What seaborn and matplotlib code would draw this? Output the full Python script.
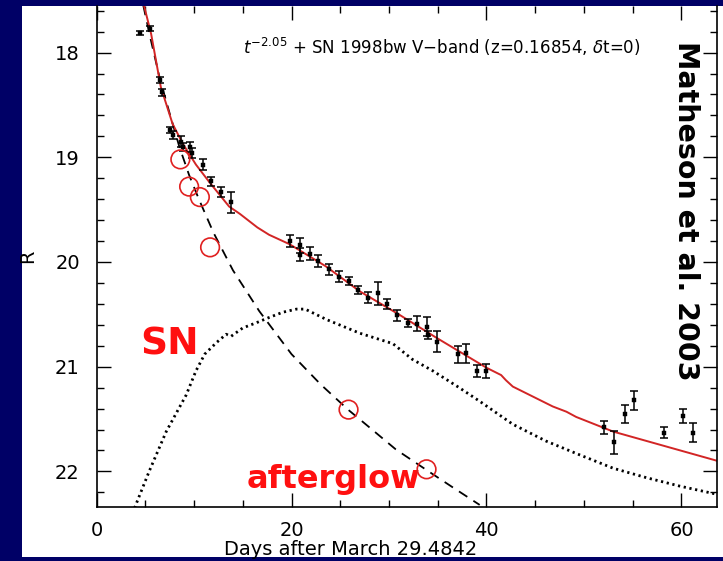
import matplotlib
matplotlib.use("Agg")
import matplotlib.pyplot as plt
from matplotlib.patches import Rectangle
from matplotlib.ticker import MultipleLocator
import seaborn as sns
import pandas as pd

# ---------------- data ----------------
obs_days = [4.5, 5.5, 6.5, 6.75, 7.55, 7.8, 8.65, 8.85, 9.6, 9.8, 10.9, 11.75, 12.8, 13.75,
            19.85, 20.85, 20.9, 21.9, 22.75, 23.85, 24.85, 25.85, 26.85, 27.85, 28.85,
            29.8, 30.85, 31.9, 32.85, 33.9, 34.0, 34.9, 37.05, 37.9, 39.0, 39.95,
            52.1, 53.1, 54.2, 55.1, 58.2, 60.2, 61.2]
obs_mag = [17.81, 17.77, 18.26, 18.38, 18.74, 18.79, 18.85, 18.90, 18.90, 18.96, 19.07, 19.23, 19.33, 19.43,
           19.80, 19.84, 19.93, 19.92, 19.99, 20.07, 20.14, 20.18, 20.27, 20.34, 20.30,
           20.40, 20.51, 20.58, 20.59, 20.62, 20.70, 20.76, 20.88, 20.87, 21.04, 21.04,
           21.58, 21.72, 21.45, 21.32, 21.63, 21.47, 21.63]
obs_err = [0.02, 0.02, 0.03, 0.03, 0.03, 0.04, 0.05, 0.04, 0.05, 0.05, 0.05, 0.04, 0.05, 0.10,
           0.06, 0.07, 0.06, 0.06, 0.06, 0.05, 0.05, 0.04, 0.04, 0.05, 0.11,
           0.05, 0.05, 0.04, 0.07, 0.09, 0.04, 0.10, 0.08, 0.09, 0.06, 0.07,
           0.06, 0.11, 0.085, 0.09, 0.055, 0.07, 0.09]

model_days = [4.6, 5.6, 6.6, 7.8, 8.85, 10.2, 11.6, 13.6, 14.7, 16.5, 17.7, 19.8, 23.5, 27.0,
              31.0, 34.8, 40.0, 41.5, 42.0, 42.7, 46.8, 48.2, 49.2, 53.0, 63.7]
model_mag = [17.45, 17.82, 18.33, 18.68, 18.87, 19.07, 19.24, 19.47, 19.54, 19.67, 19.74, 19.83, 20.04, 20.28,
             20.50, 20.72, 21.01, 21.08, 21.13, 21.19, 21.38, 21.43, 21.48, 21.62, 21.90]

afterglow_days = [4.8, 5.5, 6.5, 7.5, 8.5, 9.5, 10.5, 12.0, 14.0, 16.7, 20.0, 23.0, 25.8, 28.0,
                  30.7, 33.9, 36.5, 39.3]
afterglow_mag = [17.55, 17.85, 18.25, 18.58, 18.90, 19.17, 19.40, 19.72, 20.08, 20.47, 20.88, 21.17, 21.41, 21.58,
                 21.79, 21.99, 22.15, 22.32]

sn_days = [3.9, 5.4, 7.15, 9.2, 10.2, 11.1, 12.3, 13.3, 13.8, 15.0, 16.4, 17.7, 19.1, 20.5, 21.4,
           23.6, 27.0, 30.4, 32.4, 34.5, 37.2, 39.3, 42.7, 46.1, 49.5, 53.0, 56.4, 59.8, 63.7]
sn_mag = [22.35, 22.00, 21.62, 21.27, 21.04, 20.88, 20.77, 20.69, 20.71, 20.63, 20.58, 20.53, 20.48, 20.45, 20.45,
          20.55, 20.68, 20.78, 20.93, 21.04, 21.20, 21.33, 21.55, 21.71, 21.84, 21.97, 22.06, 22.14, 22.22]

circle_days = [8.6, 9.5, 10.6, 11.65, 25.85, 33.85]
circle_mag = [19.02, 19.28, 19.38, 19.86, 21.41, 21.98]

x_ticks = [0, 20, 40, 60]
y_ticks = [18, 19, 20, 21, 22]

# ---------------- style ----------------
sns.set_theme(style="ticks")
plt.rcParams["font.family"] = ["DejaVu Sans"]

W, H = 723, 561
fig = plt.figure(figsize=(W / 100, H / 100), dpi=100)
fig.patch.set_facecolor("#000066")
fig.patches.append(Rectangle((22 / W, 4 / H), 1 - 22 / W, 551 / H, transform=fig.transFigure,
                             facecolor="white", edgecolor="none", zorder=-10))

ax_l, ax_r, ax_t, ax_b = 96.5, 717, 6, 507
ax = fig.add_axes([ax_l / W, (H - ax_b) / H, (ax_r - ax_l) / W, (ax_b - ax_t) / H])
ax.set_zorder(1)
ax.set_facecolor("white")

df_model = pd.DataFrame({"days": model_days, "mag": model_mag})
df_ag = pd.DataFrame({"days": afterglow_days, "mag": afterglow_mag})
df_sn = pd.DataFrame({"days": sn_days, "mag": sn_mag})
df_obs = pd.DataFrame({"days": obs_days, "mag": obs_mag, "err": obs_err})
df_circ = pd.DataFrame({"days": circle_days, "mag": circle_mag})

sns.lineplot(data=df_ag, x="days", y="mag", ax=ax, color="black", lw=1.3,
             linestyle=(0, (5.5, 4)), sort=False, estimator=None)
sns.lineplot(data=df_sn, x="days", y="mag", ax=ax, color="black", lw=2.0,
             linestyle=(0, (0.8, 1.3)), sort=False, estimator=None)
sns.lineplot(data=df_model, x="days", y="mag", ax=ax, color="#d22525", lw=1.4,
             sort=False, estimator=None)
ax.errorbar(df_obs["days"], df_obs["mag"], yerr=df_obs["err"], fmt="none",
            ecolor="black", elinewidth=1.1, capsize=3.0, capthick=1.1, zorder=4)
sns.scatterplot(data=df_obs, x="days", y="mag", ax=ax, color="black", s=7,
                marker="s", edgecolor="black", linewidth=0.3, zorder=5)
sns.scatterplot(data=df_circ, x="days", y="mag", ax=ax, s=180, marker="o",
                facecolor="none", edgecolor="#e02020", linewidth=1.2, zorder=6)

ax.set_xlim(0, (ax_r - ax_l) / 9.75)
ax.set_ylim(22.34, 17.555)
ax.set_xticks(x_ticks)
ax.set_yticks(y_ticks)
ax.xaxis.set_minor_locator(MultipleLocator(5))
ax.yaxis.set_minor_locator(MultipleLocator(0.2))
ax.tick_params(which="both", direction="in", top=True, right=True, colors="black",
               width=1.0, labelsize=14)
ax.tick_params(which="major", length=10)
ax.tick_params(which="minor", length=5)
ax.tick_params(axis="x", pad=10)
ax.tick_params(axis="y", pad=12)
for side in ["left", "bottom", "right"]:
    ax.spines[side].set_color("black")
    ax.spines[side].set_linewidth(1.2)
ax.spines["top"].set_visible(False)

ax.set_xlabel("Days after March 29.4842", fontsize=14, color="black")
ax.set_ylabel("R", fontsize=14, color="black")
ax.xaxis.set_label_coords(0.41, -0.066)
ax.yaxis.set_label_coords(-0.096, 0.50)

ax.text(15.0, 17.95, r"$t^{-2.05}$ + SN 1998bw V$-$band (z=0.16854, $\delta$t=0)",
        fontsize=12, color="black", ha="left", va="center")
ax.text(4.5, 20.88, "SN", fontsize=27, fontweight="bold", color="#ff1010",
        ha="left", va="baseline")
ax.text(15.4, 22.16, "afterglow", fontsize=23, fontweight="bold", color="#ff1010",
        ha="left", va="baseline")
fig.text(686 / W, 1 - 211 / H, "Matheson et al. 2003", fontsize=20.5, fontweight="bold",
         color="black", rotation=270, ha="center", va="center", zorder=5)

fig.savefig("out.png", dpi=100, facecolor=fig.get_facecolor())
